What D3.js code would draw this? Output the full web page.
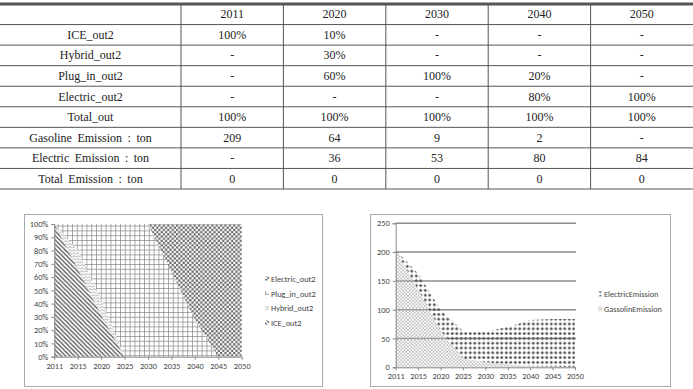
<!DOCTYPE html>
<html>
<head>
<meta charset="utf-8">
<script src="https://cdn.jsdelivr.net/npm/d3@7"></script>
<style>
  body { margin: 0; background: #fff; }
  svg { display: block; }
  .cell { font-family: "Liberation Serif", "Times New Roman", serif; font-size: 12px; fill: #222; word-spacing: 2.5px; }
  .chart text { font-family: Carlito, "Liberation Sans", Arial, sans-serif; font-size: 8.3px; fill: #444; }
</style>
</head>
<body>
<script>
// table data
var tableYears = ["2011", "2020", "2030", "2040", "2050"];
var rowLabels = ["ICE_out2", "Hybrid_out2", "Plug_in_out2", "Electric_out2", "Total_out",
  "Gasoline Emission : ton", "Electric Emission : ton", "Total Emission : ton"];
var tableCells = [
  ["100%", "10%", "-", "-", "-"],
  ["-", "30%", "-", "-", "-"],
  ["-", "60%", "100%", "20%", "-"],
  ["-", "-", "-", "80%", "100%"],
  ["100%", "100%", "100%", "100%", "100%"],
  ["209", "64", "9", "2", "-"],
  ["-", "36", "53", "80", "84"],
  ["0", "0", "0", "0", "0"]
];

// chart data
var years = ["2011", "2015", "2020", "2025", "2030", "2035", "2040", "2045", "2050"];
var iceOut = [100, 66, 31, 0, 0, 0, 0, 0, 0];
var hybridOut = [0, 14, 12, 0, 0, 0, 0, 0, 0];
var plugOut = [0, 20, 57, 100, 100, 64, 28, 0, 0];
var electricOut = [0, 0, 0, 0, 0, 36, 72, 100, 100];
var gasEmission = [203, 135, 64, 15, 9, 5, 2, 1, 0];
var elecEmission = [0, 28, 36, 48, 53, 65, 80, 83, 84];
var shareTicks = [0, 10, 20, 30, 40, 50, 60, 70, 80, 90, 100];
var emissionTicks = [0, 50, 100, 150, 200, 250];

var svg = d3.select("body").append("svg")
  .attr("width", 693)
  .attr("height", 389);

var defs = svg.append("defs");

function pattern(id, w, h) {
  return defs.append("pattern")
    .attr("id", id)
    .attr("patternUnits", "userSpaceOnUse")
    .attr("width", w)
    .attr("height", h);
}
// ICE : dark down diagonal
pattern("pIce", 4.4, 4.4).append("path")
  .attr("d", "M-1,-1L5.4,5.4M3.4,-1L5.4,1M-1,3.4L1,5.4")
  .attr("stroke", "#555").attr("stroke-width", 1.3);
// Hybrid : light zigzag
pattern("pHybrid", 4, 3).append("path")
  .attr("d", "M0,2.5L2,0.5L4,2.5")
  .attr("fill", "none").attr("stroke", "#999").attr("stroke-width", 0.9);
// Plug-in : grid
pattern("pPlug", 4.8, 4.8).append("path")
  .attr("d", "M0,0.4H4.8M0.4,0V4.8")
  .attr("stroke", "#8a8a8a").attr("stroke-width", 0.8);
// Electric : checker
var pe = pattern("pElec", 4.4, 4.4);
pe.append("rect").attr("width", 2.2).attr("height", 2.2).attr("fill", "#6a6a6a");
pe.append("rect").attr("x", 2.2).attr("y", 2.2).attr("width", 2.2).attr("height", 2.2).attr("fill", "#6a6a6a");
// gasoline emission : light crosshatch
pattern("pGas", 3.4, 3.4).append("path")
  .attr("d", "M0,0L3.4,3.4M3.4,0L0,3.4")
  .attr("stroke", "#b5b5b5").attr("stroke-width", 0.7);
// electric emission : dots
pattern("pDots", 4.5, 4.8).append("path")
  .attr("d", "M2.25,0.6L4.05,2.4L2.25,4.2L0.45,2.4Z")
  .attr("fill", "#555");

// ---------- table ----------
var tbl = svg.append("g");
var rowY = d3.scaleLinear().domain([0, 9]).range([4, 189]);
var colX = d3.scaleLinear().domain([0, 5]).range([181, 693]);

d3.range(1, 10).forEach(function(i) {
  tbl.append("line")
    .attr("x1", 0).attr("x2", 693)
    .attr("y1", rowY(i)).attr("y2", rowY(i))
    .attr("stroke", "#555").attr("stroke-width", 1);
});
tbl.append("line")
  .attr("x1", 0).attr("x2", 693)
  .attr("y1", 4).attr("y2", 4)
  .attr("stroke", "#555").attr("stroke-width", 3);
d3.range(0, 5).forEach(function(i) {
  tbl.append("line")
    .attr("x1", colX(i)).attr("x2", colX(i))
    .attr("y1", 4).attr("y2", 189)
    .attr("stroke", "#555").attr("stroke-width", 1);
});

function cellText(x, y, t) {
  tbl.append("text")
    .attr("class", "cell")
    .attr("x", x).attr("y", y + 4)
    .attr("text-anchor", "middle")
    .text(t);
}
tableYears.forEach(function(y, j) {
  cellText(colX(j + 0.5), rowY(0.5), y);
});
rowLabels.forEach(function(l, i) {
  cellText(90.5, rowY(i + 1.5), l);
  tableCells[i].forEach(function(c, j) {
    cellText(colX(j + 0.5), rowY(i + 1.5), c);
  });
});

// ---------- left chart: 100% stacked area ----------
var shareRows = years.map(function(y, i) {
  return {year: y, ice: iceOut[i], hybrid: hybridOut[i], plug: plugOut[i], elec: electricOut[i]};
});
var left = svg.append("g").attr("class", "chart");
left.append("rect")
  .attr("x", 24.5).attr("y", 214.5).attr("width", 298).attr("height", 172)
  .attr("fill", "none").attr("stroke", "#aaa");

var x1 = d3.scalePoint().domain(years).range([54.3, 241.7]);
var y1 = d3.scaleLinear().domain([0, 100]).range([356.7, 224]);
var stack1 = d3.stack().keys(["ice", "hybrid", "plug", "elec"])(shareRows);
var fills1 = {ice: "url(#pIce)", hybrid: "url(#pHybrid)", plug: "url(#pPlug)", elec: "url(#pElec)"};
var area1 = d3.area()
  .x(function(d) { return x1(d.data.year); })
  .y0(function(d) { return y1(d[0]); })
  .y1(function(d) { return y1(d[1]); });
left.selectAll("path.layer")
  .data(stack1)
  .enter().append("path")
  .attr("class", "layer")
  .attr("d", area1)
  .attr("fill", function(d) { return fills1[d.key]; });

var axLeftY = left.append("g")
  .attr("transform", "translate(54.3,0)")
  .call(d3.axisLeft(y1).tickValues(shareTicks).tickSize(3).tickFormat(function(d) { return d + "%"; }));
var axLeftX = left.append("g")
  .attr("transform", "translate(0,356.7)")
  .call(d3.axisBottom(x1).tickSize(3).tickSizeOuter(0));

// legend
var legend1 = [
  {name: "Electric_out2", fill: "url(#pElec)"},
  {name: "Plug_in_out2", fill: "url(#pPlug)"},
  {name: "Hybrid_out2", fill: "url(#pHybrid)"},
  {name: "ICE_out2", fill: "url(#pIce)"}
];
var lg1 = left.selectAll("g.lg").data(legend1).enter().append("g")
  .attr("transform", function(d, i) { return "translate(265," + (279 + i * 14.7) + ")"; });
lg1.append("rect").attr("x", 0).attr("y", -2.5).attr("width", 4).attr("height", 4)
  .attr("fill", function(d) { return d.fill; });
lg1.append("text").attr("x", 6).attr("y", 2.8)
  .text(function(d) { return d.name; });

// ---------- right chart: stacked emissions ----------
var emRows = years.map(function(y, i) {
  return {year: y, gas: gasEmission[i], elec: elecEmission[i]};
});
var right = svg.append("g").attr("class", "chart");
right.append("rect")
  .attr("x", 370.5).attr("y", 214.5).attr("width", 300).attr("height", 172)
  .attr("fill", "none").attr("stroke", "#aaa");

var x2 = d3.scalePoint().domain(years).range([395.7, 575]);
var y2 = d3.scaleLinear().domain([0, 250]).range([367.3, 223.3]);

right.selectAll("line.grid")
  .data(emissionTicks.slice(1))
  .enter().append("line")
  .attr("x1", 395.7).attr("x2", 576)
  .attr("y1", function(d) { return y2(d); })
  .attr("y2", function(d) { return y2(d); })
  .attr("stroke", "#8c8c8c").attr("stroke-width", 1.5);

var stack2 = d3.stack().keys(["gas", "elec"])(emRows);
var fills2 = {gas: "url(#pGas)", elec: "url(#pDots)"};
var area2 = d3.area()
  .x(function(d) { return x2(d.data.year); })
  .y0(function(d) { return y2(d[0]); })
  .y1(function(d) { return y2(d[1]); });
right.selectAll("path.layer")
  .data(stack2)
  .enter().append("path")
  .attr("class", "layer")
  .attr("d", area2)
  .attr("fill", function(d) { return fills2[d.key]; });

var axRightY = right.append("g")
  .attr("transform", "translate(395.7,0)")
  .call(d3.axisLeft(y2).tickValues(emissionTicks).tickSize(3));
var axRightX = right.append("g")
  .attr("transform", "translate(0,367.3)")
  .call(d3.axisBottom(x2).tickSize(3).tickSizeOuter(0));

var legend2 = [
  {name: "ElectricEmission", fill: "url(#pDots)"},
  {name: "GassolinEmission", fill: "url(#pGas)"}
];
var lg2 = right.selectAll("g.lg").data(legend2).enter().append("g")
  .attr("transform", function(d, i) { return "translate(598," + (294 + i * 15) + ")"; });
lg2.append("rect").attr("x", 0).attr("y", -2.5).attr("width", 4.5).attr("height", 4.8)
  .attr("fill", function(d) { return d.fill; });
lg2.append("text").attr("x", 6).attr("y", 2.8)
  .text(function(d) { return d.name; });

// axes in gray, let the css pick the font
[axLeftY, axLeftX, axRightY, axRightX].forEach(function(a) {
  a.selectAll("path, line").attr("stroke", "#888");
  a.attr("font-size", null).attr("font-family", null);
  a.selectAll("text").attr("fill", null);
});
</script>
</body>
</html>
